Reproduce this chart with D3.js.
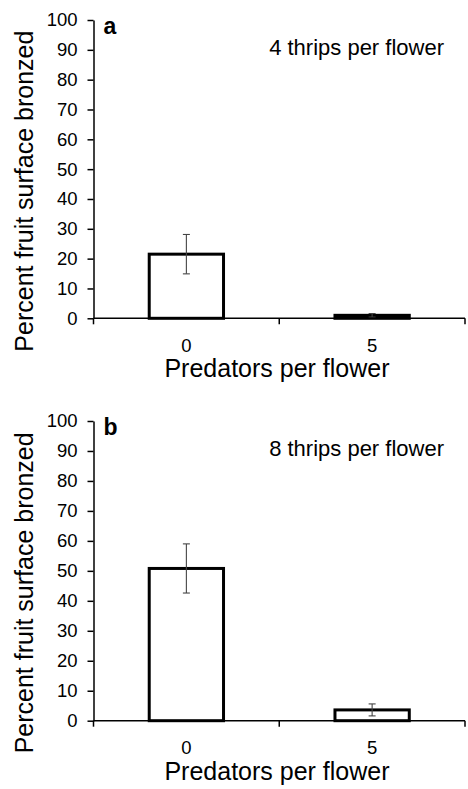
<!DOCTYPE html>
<html>
<head>
<meta charset="utf-8">
<script src="https://cdn.jsdelivr.net/npm/d3@7/dist/d3.min.js"></script>
<style>
  html, body { margin: 0; padding: 0; background: #fff; }
  svg { display: block; }
  text { font-family: "Liberation Sans", Arial, sans-serif; fill: #000; }
</style>
</head>
<body>
<svg id="chart" width="468" height="789"></svg>
<script>
// ---- data ----
const categories = ["0", "5"];
const yTicks = [0, 10, 20, 30, 40, 50, 60, 70, 80, 90, 100];
const panelLetters = ["a", "b"];
const panelTitles = ["4 thrips per flower", "8 thrips per flower"];
const meansA = [21.5, 1.0];
const errorsA = [6.6, 0.6];
const meansB = [50.8, 3.6];
const errorsB = [8.2, 2.0];
const xLabel = "Predators per flower";
const yLabel = "Percent fruit surface bronzed";

const svg = d3.select("#chart");

const panels = [
  { letter: panelLetters[0], title: panelTitles[0], means: meansA, errs: errorsA, top: 20, bottom: 318.3 },
  { letter: panelLetters[1], title: panelTitles[1], means: meansB, errs: errorsB, top: 421, bottom: 720.7 }
];

const axisX = 93.5, rightX = 465;

panels.forEach(p => {
  const g = svg.append("g");
  const y = d3.scaleLinear().domain([0, 100]).range([p.bottom, p.top]);
  const xBand = d3.scaleBand().domain(categories).range([axisX, rightX]).paddingInner(0.6).paddingOuter(0.3);
  const xEdge = d3.scaleBand().domain(categories).range([axisX, rightX]).padding(0);

  // bars
  g.selectAll("rect.bar").data(categories).join("rect")
    .attr("class", "bar")
    .attr("x", d => xBand(d))
    .attr("width", xBand.bandwidth())
    .attr("y", (d, i) => y(p.means[i]))
    .attr("height", (d, i) => y(0) - y(p.means[i]))
    .attr("fill", "#fff")
    .attr("stroke", "#000")
    .attr("stroke-width", 3);

  // error bars
  const eb = g.selectAll("g.err").data(categories).join("g").attr("class", "err")
    .attr("stroke", "#444").attr("stroke-width", 1.1);
  const cx = d => xBand(d) + xBand.bandwidth() / 2;
  eb.append("line")
    .attr("x1", cx).attr("x2", cx)
    .attr("y1", (d, i) => y(p.means[i] + p.errs[i]))
    .attr("y2", (d, i) => y(p.means[i] - p.errs[i]));
  eb.append("line")
    .attr("x1", d => cx(d) - 3.5).attr("x2", d => cx(d) + 3.5)
    .attr("y1", (d, i) => y(p.means[i] + p.errs[i]))
    .attr("y2", (d, i) => y(p.means[i] + p.errs[i]));
  eb.append("line")
    .attr("x1", d => cx(d) - 3.5).attr("x2", d => cx(d) + 3.5)
    .attr("y1", (d, i) => y(p.means[i] - p.errs[i]))
    .attr("y2", (d, i) => y(p.means[i] - p.errs[i]));

  // y axis
  const yAxis = d3.axisLeft(y).tickValues(yTicks).tickSize(6).tickSizeOuter(0).tickPadding(10);
  const ya = g.append("g").attr("transform", `translate(${axisX},0)`).call(yAxis)
    .attr("font-size", null).attr("font-family", null);
  ya.select(".domain").attr("stroke", "#000").attr("stroke-width", 1.5);
  ya.selectAll(".tick line").attr("stroke", "#000").attr("stroke-width", 1.5);
  ya.selectAll(".tick text").style("font-size", "18.5px").attr("fill", "#000");

  // x axis
  const xa = g.append("g").attr("transform", `translate(0,${y(0)})`);
  xa.append("line").attr("x1", axisX).attr("x2", rightX).attr("y1", 0).attr("y2", 0)
    .attr("stroke", "#000").attr("stroke-width", 1.5);
  const edges = categories.map(d => xEdge(d)).concat([xEdge(categories[categories.length - 1]) + xEdge.bandwidth()]);
  xa.selectAll("line.edge").data(edges).join("line").attr("class", "edge")
    .attr("x1", d => d).attr("x2", d => d).attr("y1", 0).attr("y2", 6)
    .attr("stroke", "#000").attr("stroke-width", 1.5);
  xa.selectAll("text.xt").data(categories).join("text").attr("class", "xt")
    .attr("x", d => xBand(d) + xBand.bandwidth() / 2)
    .attr("y", 33.5)
    .attr("text-anchor", "middle")
    .style("font-size", "18.5px")
    .text(d => d);

  // x label
  g.append("text")
    .attr("x", 277).attr("y", y(0) + 59)
    .attr("text-anchor", "middle")
    .style("font-size", "25px")
    .text(xLabel);

  // y label
  g.append("text")
    .attr("transform", `translate(33,${(p.top + p.bottom) / 2 + 22}) rotate(-90)`)
    .attr("text-anchor", "middle")
    .style("font-size", "25px")
    .text(yLabel);

  // panel letter
  g.append("text")
    .attr("x", 103.5).attr("y", p.top + 13.5)
    .style("font-size", "23px").style("font-weight", "bold")
    .text(p.letter);

  // panel title
  g.append("text")
    .attr("x", 444).attr("y", p.top + 35)
    .attr("text-anchor", "end")
    .style("font-size", "22px")
    .text(p.title);
});
</script>
</body>
</html>
